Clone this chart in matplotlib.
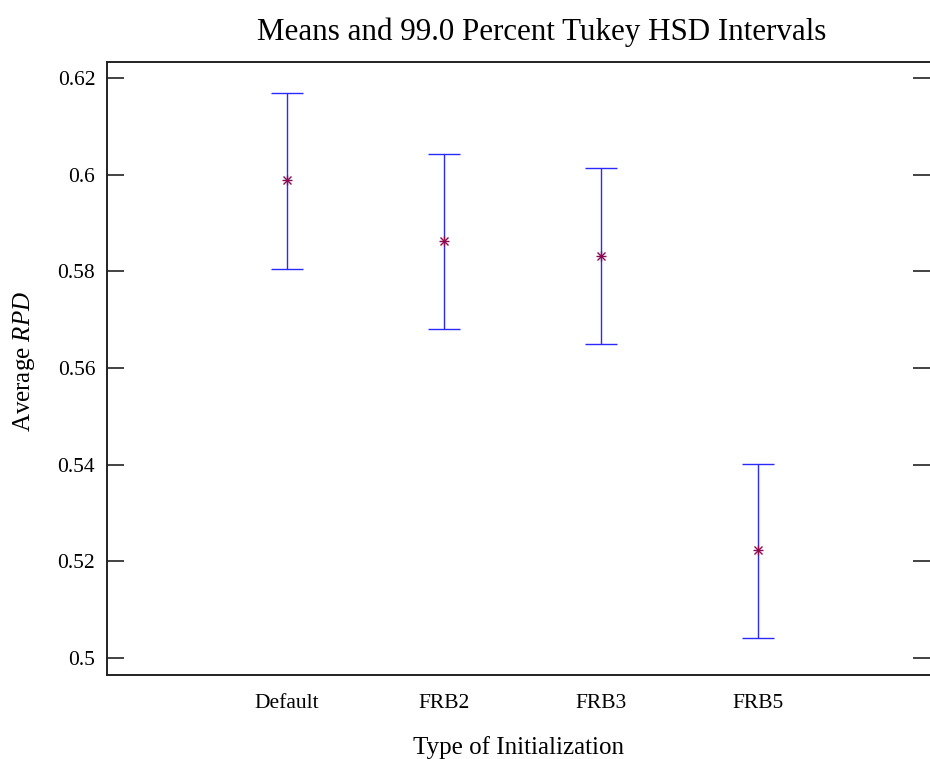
import numpy as np
import matplotlib
matplotlib.use("Agg")
from matplotlib import pyplot as plt

# Tukey HSD intervals
groups = ["Default", "FRB2", "FRB3", "FRB5"]
means = [0.5988, 0.5863, 0.5832, 0.5223]
upper = [0.6169, 0.6043, 0.6014, 0.5401]
lower = [0.5805, 0.5681, 0.5650, 0.5041]
yticks = [0.5, 0.52, 0.54, 0.56, 0.58, 0.6, 0.62]
ytick_labels = ["0.5", "0.52", "0.54", "0.56", "0.58", "0.6", "0.62"]

plt.rcParams['font.family'] = ['Liberation Serif', 'DejaVu Serif']
plt.rcParams['mathtext.fontset'] = 'custom'
plt.rcParams['mathtext.it'] = 'Liberation Serif:italic'
plt.rcParams['mathtext.rm'] = 'Liberation Serif'

fig = plt.figure(figsize=(9.3, 7.59), dpi=100)
ax = fig.add_axes([107 / 930, 84 / 759, 1 - 107 / 930, 613 / 759])

x = np.arange(1, len(groups) + 1)
m = np.array(means)
err = [m - np.array(lower), np.array(upper) - m]
ax.errorbar(x, m, yerr=err, fmt='none', ecolor='#2a2aff', elinewidth=1.0,
            capsize=11.2, capthick=1.0, zorder=2)
ax.plot(x, m, linestyle='none', marker='+', color='#8b0a50', ms=7.5, mew=1.0, zorder=3)
ax.plot(x, m, linestyle='none', marker='x', color='#8b0a50', ms=5.5, mew=1.0, zorder=3)

ax.set_xlim(1 - 180 / 157, 4 + 172 / 157)
ax.set_ylim(0.5 - 17 / 4833, 0.62 + 16 / 4833)

ax.set_yticks(yticks)
ax.set_yticklabels(ytick_labels, fontsize=15.5)
ax.set_xticks(x)
ax.set_xticklabels(groups, fontsize=15.5)
ax.tick_params(axis='y', direction='in', length=12, width=1.2, color='#222222',
               left=True, right=True, pad=8.5)
ax.tick_params(axis='x', length=0, pad=14)

for s in ['left', 'top', 'bottom']:
    ax.spines[s].set_linewidth(1.4)
    ax.spines[s].set_color('#222222')
ax.spines['right'].set_visible(False)

ax.set_title("Means and 99.0 Percent Tukey HSD Intervals", fontsize=22.3, pad=16,
             x=(542 - 107) / (930 - 107))
ax.set_xlabel("Type of Initialization", fontsize=18, labelpad=16)
ax.set_ylabel("Average $\\mathit{RPD}$", fontsize=18, labelpad=14)
ax.yaxis.set_label_coords(-0.0854, 0.512)

fig.savefig("out.png", dpi=100)
